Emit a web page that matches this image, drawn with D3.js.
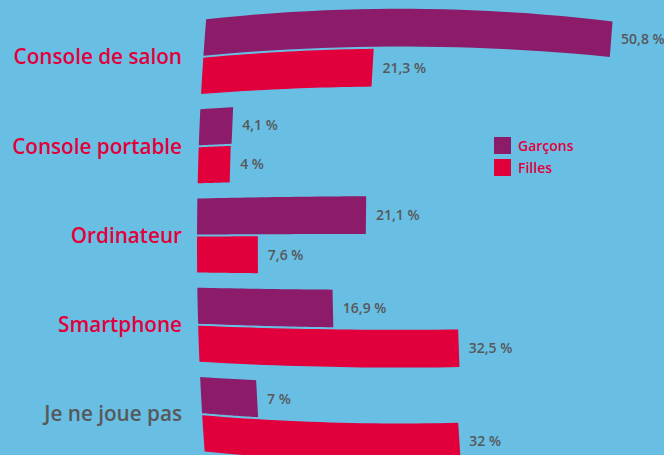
<!DOCTYPE html>
<html><head><meta charset="utf-8">
<script src="https://cdn.jsdelivr.net/npm/d3@7"></script>
<style>
html,body{margin:0;padding:0;background:#69bee3;}
svg{display:block;}
</style></head>
<body>
<script>
const categories = ["Console de salon","Console portable","Ordinateur","Smartphone","Je ne joue pas"];
const garcons = [50.8, 4.1, 21.1, 16.9, 7];
const filles = [21.3, 4, 7.6, 32.5, 32];
const seriesNames = ["Garçons","Filles"];
const categoryColors = ["#e1003c","#e1003c","#e1003c","#e1003c","#56585a"];

const W = 664, H = 455;
const colors = {"Garçons":"#8c1c6a","Filles":"#e1003c"};
const svg = d3.select("body").append("svg").attr("width", W).attr("height", H);
svg.append("rect").attr("width", W).attr("height", H).attr("fill", "#69bee3");

const y = d3.scalePoint().domain(categories).range([57, 414]);
const x = d3.scaleLinear().domain([0, 50]).range([0, 400]);
const barH = 36, gap = 2;
const baseX = 197, midY = 245;
// stylistic warp, mimicking the curved look of the original
const leftX = yy => baseX + 0.00018 * (yy - midY) ** 2;
const warpY = (xx, yy) => { const dx = xx - 200, o = yy - midY; return yy + o * (5.0e-4 * dx - 1.25e-6 * dx * dx); };
const fmt = v => String(v).replace(".", ",") + " %";

const rows = [];
categories.forEach((c, i) => {
  rows.push({cat: c, s: "Garçons", v: garcons[i], top: y(c) - gap/2 - barH});
  rows.push({cat: c, s: "Filles", v: filles[i], top: y(c) + gap/2});
});

function barPath(d) {
  const t = d.top, b = d.top + barH;
  const len = x(d.v);
  const pts = [];
  const n = 24;
  const lt = leftX(t), lb = leftX(b);
  for (let k = 0; k <= n; k++) { const xx = lt + len * k / n; pts.push([xx, warpY(xx, t)]); }
  for (let k = n; k >= 0; k--) { const xx = lb + len * k / n; pts.push([xx, warpY(xx, b)]); }
  for (let k = 1; k < n; k++) { const yy = b - (b - t) * k / n; pts.push([leftX(yy), yy]); }
  return d3.line()(pts) + "Z";
}

svg.append("g").selectAll("path").data(rows).join("path")
  .attr("d", barPath)
  .attr("fill", d => colors[d.s]);

svg.append("g").selectAll("text").data(rows).join("text")
  .attr("x", d => { const c = d.top + barH/2; return leftX(c) + x(d.v) + 10; })
  .attr("y", d => { const c = d.top + barH/2; const xe = leftX(c) + x(d.v); return warpY(xe, c); })
  .attr("dy", "0.35em")
  .attr("font-family", "Open Sans")
  .attr("font-weight", 600)
  .attr("font-size", 14)
  .attr("fill", "#56585a")
  .text(d => fmt(d.v));

svg.append("g").selectAll("text").data(categories).join("text")
  .attr("x", 182)
  .attr("y", d => y(d))
  .attr("dy", "0.36em")
  .attr("text-anchor", "end")
  .attr("font-family", "Open Sans")
  .attr("font-weight", 600)
  .attr("font-size", 20.7)
  .attr("fill", (d, i) => categoryColors[i])
  .text(d => d);

const lg = svg.append("g").attr("transform", "translate(494,137)");
const li = lg.selectAll("g").data(seriesNames).join("g")
  .attr("transform", (d, i) => `translate(0,${i * 22})`);
li.append("rect").attr("width", 17).attr("height", 17).attr("fill", d => colors[d]);
li.append("text").attr("x", 24).attr("y", 8.5).attr("dy", "0.36em")
  .attr("font-family", "Open Sans").attr("font-weight", 600).attr("font-size", 14)
  .attr("fill", "#e1003c").text(d => d);
</script>
</body></html>
